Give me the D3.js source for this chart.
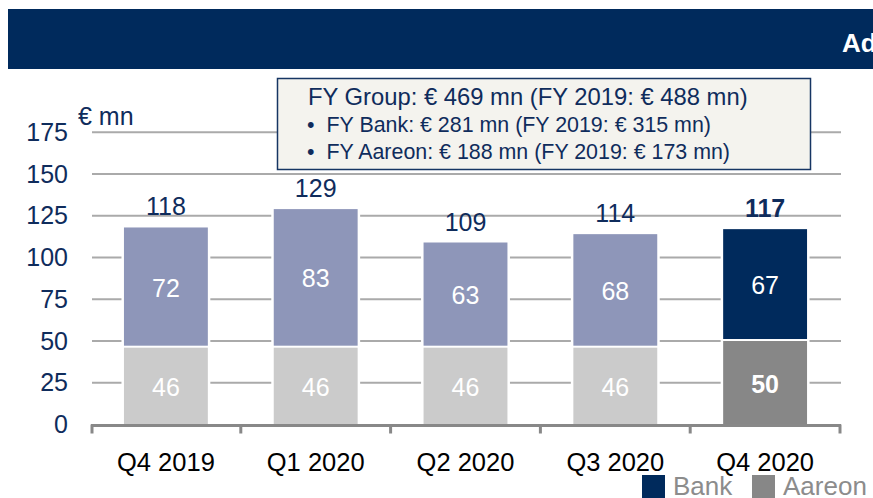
<!DOCTYPE html>
<head>
<meta charset="utf-8">
<style>
body { margin: 0; background: #fff; }
text { font-family: "Liberation Sans", Arial, sans-serif; }
</style>
</head>
<body>
<script src="https://d3js.org/d3.v7.min.js"></script>
<script>
// chart data
var quarters = ["Q4 2019", "Q1 2020", "Q2 2020", "Q3 2020", "Q4 2020"];
var bank = [72, 83, 63, 68, 67];
var aareon = [46, 46, 46, 46, 50];
var totals = [118, 129, 109, 114, 117];
var yTicks = [0, 25, 50, 75, 100, 125, 150, 175];
var boxLines = [
  "FY Group: € 469 mn (FY 2019: € 488 mn)",
  "FY Bank: € 281 mn (FY 2019: € 315 mn)",
  "FY Aareon: € 188 mn (FY 2019: € 173 mn)"
];
var legendItems = ["Bank", "Aareon"];

var width = 873, height = 498;
var navy = "#002a5c", textNavy = "#0f2c5c";

var svg = d3.select("body").append("svg")
    .attr("width", width)
    .attr("height", height);

// header band
svg.append("rect").attr("x", 8).attr("y", 9).attr("width", width - 8).attr("height", 60).attr("fill", navy);
svg.append("text").attr("x", 842).attr("y", 52).attr("fill", "#fff")
    .attr("font-size", 26).attr("font-weight", "bold").text("Ad");

var x = d3.scaleBand().domain(quarters).range([91, 840]).paddingInner(0.44).paddingOuter(0.22);
var y = d3.scaleLinear().domain([0, 175]).range([424.5, 132.3]);

// gridlines
svg.append("g").selectAll("line").data(yTicks.filter(d => d > 0)).enter().append("line")
    .attr("x1", 92).attr("x2", 841)
    .attr("y1", d => y(d)).attr("y2", d => y(d))
    .attr("stroke", "#aaaaaa").attr("stroke-width", 2);

// y axis labels
var yAxis = svg.append("g").attr("transform", "translate(68,0)")
    .call(d3.axisLeft(y).tickValues(yTicks).tickSize(0).tickPadding(0));
yAxis.select(".domain").remove();
yAxis.selectAll("text").attr("font-size", 25).attr("fill", textNavy)
    .attr("font-family", "Liberation Sans, Arial, sans-serif");

svg.append("text").attr("x", 78).attr("y", 125).attr("font-size", 25).attr("fill", textNavy).text("€ mn");

// bars
var rows = quarters.map((q, i) => ({ q: q, bank: bank[i], aareon: aareon[i], total: totals[i], last: i === quarters.length - 1 }));

var barG = svg.append("g");
// white halo that cuts the gridlines
barG.selectAll(".halo").data(rows).enter().append("rect")
    .attr("x", d => x(d.q) - 2.5).attr("width", x.bandwidth() + 5)
    .attr("y", d => y(d.total) - 2.5).attr("height", d => y(0) - y(d.total) + 2.5)
    .attr("fill", "#fff");

barG.selectAll(".aareon").data(rows).enter().append("rect")
    .attr("x", d => x(d.q)).attr("width", x.bandwidth())
    .attr("y", d => y(d.aareon)).attr("height", d => y(0) - y(d.aareon))
    .attr("fill", d => d.last ? "#878787" : "#cbcbcb");

barG.selectAll(".bank").data(rows).enter().append("rect")
    .attr("x", d => x(d.q)).attr("width", x.bandwidth())
    .attr("y", d => y(d.total)).attr("height", d => y(d.aareon) - y(d.total) - 2)
    .attr("fill", d => d.last ? navy : "#8e96b9");

// segment labels
barG.selectAll(".lb").data(rows).enter().append("text")
    .attr("x", d => x(d.q) + x.bandwidth() / 2)
    .attr("y", d => (y(d.total) + y(d.aareon)) / 2 + 9)
    .attr("text-anchor", "middle").attr("font-size", 25).attr("fill", "#fff")
    .text(d => d.bank);
barG.selectAll(".la").data(rows).enter().append("text")
    .attr("x", d => x(d.q) + x.bandwidth() / 2)
    .attr("y", d => (y(d.aareon) + y(0)) / 2 + 10)
    .attr("text-anchor", "middle").attr("font-size", 25).attr("fill", "#fff")
    .attr("font-weight", d => d.last ? "bold" : "normal")
    .text(d => d.aareon);
barG.selectAll(".lt").data(rows).enter().append("text")
    .attr("x", d => x(d.q) + x.bandwidth() / 2)
    .attr("y", d => y(d.total) - 12)
    .attr("text-anchor", "middle").attr("font-size", 25).attr("fill", textNavy)
    .attr("font-weight", d => d.last ? "bold" : "normal")
    .text(d => d.total);

// x axis
var xAxis = svg.append("g").attr("transform", "translate(0," + y(0) + ")")
    .call(d3.axisBottom(x).tickSize(0).tickPadding(28));
xAxis.select(".domain").remove();
xAxis.selectAll("text").attr("font-size", 25.5).attr("fill", "#000")
    .attr("font-family", "Liberation Sans, Arial, sans-serif");
var step = x.step();
var bounds = quarters.map(q => x(q) - step * x.paddingInner() / 2).concat([840]);
bounds[0] = 92;
svg.append("line").attr("x1", 91).attr("x2", 841).attr("y1", y(0) + 1).attr("y2", y(0) + 1)
    .attr("stroke", "#888").attr("stroke-width", 3);
svg.append("g").selectAll("line").data(bounds).enter().append("line")
    .attr("x1", d => d).attr("x2", d => d)
    .attr("y1", y(0)).attr("y2", y(0) + 9)
    .attr("stroke", "#888").attr("stroke-width", 3);

// info box
svg.append("rect").attr("x", 277.5).attr("y", 78.5).attr("width", 533).attr("height", 91)
    .attr("fill", "#f4f3ee").attr("stroke", "#163563").attr("stroke-width", 1.5);
svg.append("text").attr("x", 308).attr("y", 105).attr("font-size", 23.8).attr("fill", textNavy).text(boxLines[0]);
[boxLines[1], boxLines[2]].forEach(function(t, i) {
  var by = 132 + i * 27.3;
  svg.append("text").attr("x", 307).attr("y", by).attr("font-size", 21.4).attr("fill", textNavy).text("•");
  svg.append("text").attr("x", 326.5).attr("y", by).attr("font-size", 21.4).attr("fill", textNavy).text(t);
});

// legend
var legColors = [navy, "#878787"];
var legX = [642, 752];
legendItems.forEach(function(name, i) {
  svg.append("rect").attr("x", legX[i]).attr("y", 475).attr("width", 23).attr("height", 23).attr("fill", legColors[i]);
  svg.append("text").attr("x", legX[i] + 31).attr("y", 495).attr("font-size", 26).attr("fill", "#8c8c8c").text(name);
});
</script>
</body>
</html>
